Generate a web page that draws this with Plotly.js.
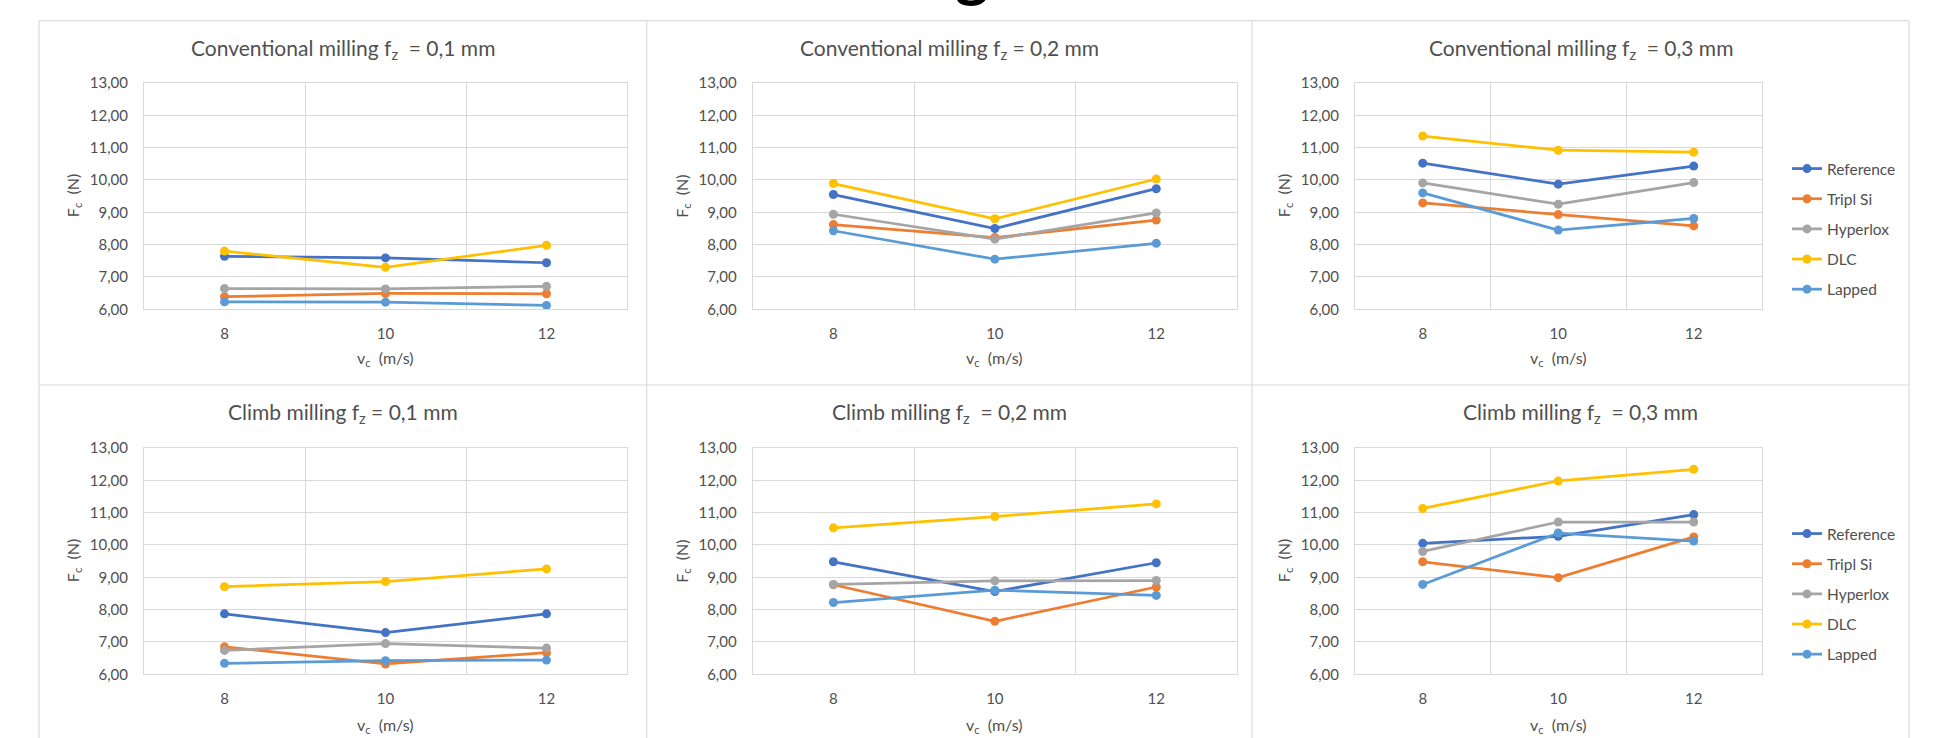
<!DOCTYPE html>
<html>
<head>
<meta charset="utf-8">
<script src="https://cdn.plot.ly/plotly-3.0.1.min.js"></script>
<style>
  html, body { margin: 0; padding: 0; background: #ffffff; }
  #chart { width: 1936px; height: 738px; }
</style>
</head>
<body>
<div id="chart"></div>
<script>
// ---- data ----
const speeds = [8, 10, 12];
const speedLabels = ['8', '10', '12'];
const coatings = ['Reference', 'Tripl Si', 'Hyperlox', 'DLC', 'Lapped'];

// rows: Reference, Tripl Si, Hyperlox, DLC, Lapped
const conv_01 = [
  [7.64, 7.59, 7.44],
  [6.39, 6.49, 6.48],
  [6.64, 6.63, 6.71],
  [7.80, 7.30, 7.98],
  [6.23, 6.22, 6.12]
];
const conv_02 = [
  [9.55, 8.50, 9.73],
  [8.62, 8.22, 8.76],
  [8.94, 8.17, 8.98],
  [9.89, 8.80, 10.03],
  [8.43, 7.55, 8.04]
];
const conv_03 = [
  [10.52, 9.87, 10.43],
  [9.29, 8.93, 8.58],
  [9.91, 9.25, 9.92],
  [11.36, 10.92, 10.86],
  [9.60, 8.45, 8.81]
];
const climb_01 = [
  [7.87, 7.29, 7.87],
  [6.85, 6.32, 6.67],
  [6.74, 6.95, 6.81],
  [8.71, 8.87, 9.26],
  [6.34, 6.42, 6.44]
];
const climb_02 = [
  [9.48, 8.56, 9.45],
  [8.77, 7.64, 8.70],
  [8.78, 8.89, 8.90],
  [10.53, 10.88, 11.27],
  [8.22, 8.60, 8.44]
];
const climb_03 = [
  [10.05, 10.27, 10.94],
  [9.48, 8.99, 10.25],
  [9.80, 10.71, 10.71],
  [11.13, 11.98, 12.34],
  [8.78, 10.37, 10.12]
];
const panelTitles = [
  'Conventional milling f<sub>z</sub>&nbsp; = 0,1 mm',
  'Conventional milling f<sub>z</sub> = 0,2 mm',
  'Conventional milling f<sub>z</sub>&nbsp; = 0,3 mm',
  'Climb milling f<sub>z</sub> = 0,1 mm',
  'Climb milling f<sub>z</sub>&nbsp; = 0,2 mm',
  'Climb milling f<sub>z</sub>&nbsp; = 0,3 mm'
];
const yTitle = 'F<sub>c</sub>&nbsp; (N)';
const xTitle = 'v<sub>c</sub>&nbsp; (m/s)';
const cutHeading = 'g';

// ---- styling ----
const colors = ['#4472C4', '#ED7D31', '#A5A5A5', '#FFC000', '#5B9BD5'];
const W = 1936, H = 738;
const FONT = 'Lato, "Open Sans", sans-serif';
const TXT = '#505050';
const GRID = '#d9d9d9';

const panels = [conv_01, conv_02, conv_03, climb_01, climb_02, climb_03];
// plot-area pixel boxes
const colX = [[144, 627], [752.7, 1237], [1355, 1761.5]];
const rowY = [[83, 309.3], [448, 674.3]];
const panelX = [39, 646.7, 1252, 1909];
const rowTop = [20.7, 385];

const px = x => x / W;
const py = y => 1 - y / H;

const traces = [];
const layout = {
  width: W, height: H,
  margin: {l: 0, r: 0, t: 0, b: 0},
  paper_bgcolor: '#ffffff',
  plot_bgcolor: '#ffffff',
  separators: ', ',
  font: {family: FONT, color: TXT, size: 15},
  showlegend: true,
  annotations: [],
  shapes: []
};

panels.forEach((data, p) => {
  const r = Math.floor(p / 3), c = p % 3;
  const n = p + 1;
  const xa = 'x' + (n === 1 ? '' : n), ya = 'y' + (n === 1 ? '' : n);
  const xk = 'xaxis' + (n === 1 ? '' : n), yk = 'yaxis' + (n === 1 ? '' : n);
  const [x0, x1] = colX[c], [y0, y1] = rowY[r];
  layout[xk] = {
    domain: [px(x0), px(x1)], anchor: ya,
    range: [7, 13], tickmode: 'array', tickvals: speeds, ticktext: speedLabels,
    showgrid: false, zeroline: false, ticks: '',
    showline: true, mirror: true, linecolor: GRID, linewidth: 1,
    minor: {tickmode: 'array', tickvals: [9, 11], showgrid: true, gridcolor: GRID, gridwidth: 1, ticks: ''},
    tickfont: {family: FONT, size: 15, color: TXT},
    ticklabelstandoff: 11, fixedrange: true
  };
  layout[yk] = {
    domain: [py(y1), py(y0)], anchor: xa,
    range: [6, 13], tickmode: 'linear', tick0: 6, dtick: 1, tickformat: '.2f',
    showgrid: true, gridcolor: GRID, gridwidth: 1, zeroline: false, ticks: '',
    showline: true, mirror: true, linecolor: GRID, linewidth: 1,
    tickfont: {family: FONT, size: 15, color: TXT},
    ticklabelstandoff: 12, fixedrange: true
  };
  data.forEach((vals, s) => {
    const isLegendPanel = (c === 2);
    traces.push({
      type: 'scatter', mode: 'lines+markers',
      x: speeds, y: vals, xaxis: xa, yaxis: ya,
      name: coatings[s],
      legend: r === 0 ? 'legend' : 'legend2',
      legendgroup: 'g' + r + s,
      showlegend: isLegendPanel,
      line: {color: colors[s], width: 2.75},
      marker: {color: colors[s], size: 9, symbol: 'circle'},
      hoverinfo: 'skip'
    });
  });
  // chart title
  const cx = (panelX[c] + panelX[c + 1]) / 2;
  layout.annotations.push({
    xref: 'paper', yref: 'paper', x: px(cx), y: py(r === 0 ? 49 : 413),
    xanchor: 'center', yanchor: 'middle', showarrow: false,
    text: panelTitles[p], font: {family: FONT, size: 21, color: TXT}
  });
  // y title
  layout.annotations.push({
    xref: 'paper', yref: 'paper', x: px(x0 - 71), y: py((y0 + y1) / 2),
    xanchor: 'center', yanchor: 'middle', showarrow: false, textangle: -90,
    text: yTitle, font: {family: FONT, size: 16, color: TXT}
  });
  // x title
  layout.annotations.push({
    xref: 'paper', yref: 'paper', x: px((x0 + x1) / 2), y: py(r === 0 ? 358 : 725),
    xanchor: 'center', yanchor: 'middle', showarrow: false,
    text: xTitle, font: {family: FONT, size: 16, color: TXT}
  });
});

// cut-off heading of the page above the figure (only its lower part shows)
layout.annotations.push({
  xref: 'paper', yref: 'paper', x: px(972), y: py(11),
  xanchor: 'center', yanchor: 'bottom', showarrow: false,
  text: '<b>' + cutHeading + '</b>', font: {family: FONT, size: 64, color: '#000000'}
});

// panel borders
const BORDER = '#dcdcdc';
rowTop.forEach(y => layout.shapes.push({
  type: 'line', xref: 'paper', yref: 'paper',
  x0: px(panelX[0]), x1: px(panelX[3]), y0: py(y), y1: py(y),
  line: {color: BORDER, width: 1.2}
}));
panelX.forEach(x => layout.shapes.push({
  type: 'line', xref: 'paper', yref: 'paper',
  x0: px(x), x1: px(x), y0: py(rowTop[0]), y1: 0,
  line: {color: BORDER, width: 1.2}
}));

const legendStyle = top => ({
  x: px(1787), xanchor: 'left',
  y: py(top), yanchor: 'top',
  bgcolor: 'rgba(0,0,0,0)', borderwidth: 0,
  font: {family: FONT, size: 15.5, color: TXT},
  traceorder: 'grouped', tracegroupgap: 7,
  itemclick: false, itemdoubleclick: false
});
layout.legend = legendStyle(152);
layout.legend2 = legendStyle(517);

Plotly.newPlot('chart', traces, layout, {staticPlot: true, displayModeBar: false});
</script>
</body>
</html>
